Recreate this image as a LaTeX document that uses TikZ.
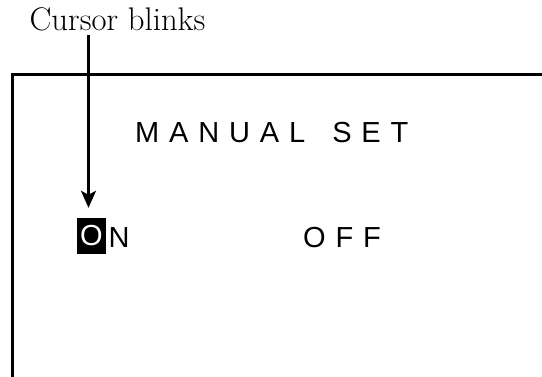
\documentclass[tikz,border=0pt]{standalone}
\usepackage{fontspec}
\usepackage{tikz}
\usetikzlibrary{positioning,arrows.meta}
\newfontfamily\lcdfont[LetterSpace=34]{Liberation Sans}

\begin{document}
\begin{tikzpicture}[x=1pt,y=-1pt,
            every node/.append style = {inner sep=0pt},
            lcd/.style = {font=\lcdfont\fontsize{29}{34}\selectfont, anchor=west},
            frame/.style = {line width=2.2pt},
            pointer/.style = {line width=2.2pt, -{Stealth[length=17pt,width=15pt,inset=4pt]}, shorten >=10pt}]
        \useasboundingbox (0,0) rectangle (542,377);
        % screen border
        \draw[frame] (12.5,378) -- (12.5,74.5) -- (543,74.5);
        % texts on the screen
        \node[lcd] (title) at (135,133) {MANUAL\hspace{9pt} SET};
        \node[fill=black, text=white, font=\lcdfont\fontsize{29}{34}\selectfont,
              minimum width=29pt, minimum height=36pt] (onO) at (91.5,236) {O};
        \node[lcd] (onN) at (108.5,238) {N};
        \node[lcd] (off) at (303,238) {OFF};
        % note
        \node[font=\fontsize{32.7}{38}\selectfont] (cursor) at (117.5,19) {Cursor blinks};
        \coordinate (start) at (88.5,35);
        \draw[pointer] (start) -- (start |- onO.north);
\end{tikzpicture}
\end{document}
